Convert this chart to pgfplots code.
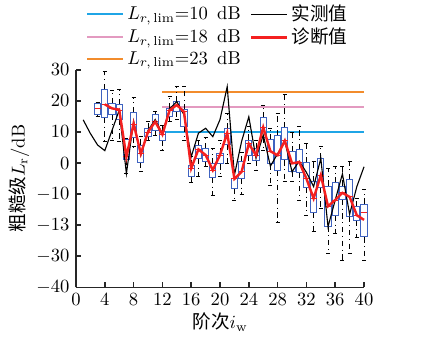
\documentclass[border=0pt]{standalone}
\usepackage{pgfplots}
\pgfplotsset{compat=1.18}
\usepgfplotslibrary{statistics}
\usepackage{fontspec}
\newfontfamily\cjk{Noto Sans CJK SC}
\definecolor{limblue}{HTML}{1FA5E6}
\definecolor{limpink}{HTML}{E39AC0}
\definecolor{limorange}{HTML}{F28C2C}
\definecolor{boxblue}{HTML}{3F63C0}
\definecolor{diagred}{HTML}{F42020}
\newcommand\bx[6]{\addplot[boxplot prepared={draw position=#1,lower whisker=#2,lower quartile=#3,median=#4,upper quartile=#5,upper whisker=#6}] coordinates {};}
\pgfplotstableread{
x y
1 13.9
2 9.5
3 5.8
4 4.0
5 10.5
6 17.0
7 -3.4
8 13.5
9 2.5
10 10.5
11 14.0
12 9.5
13 17.5
14 19.8
15 15.5
16 2.0
17 9.6
18 11.2
19 8.5
20 14.0
21 24.6
22 -3.9
23 7.0
24 14.9
25 1.5
26 9.0
27 -1.0
28 3.0
29 7.0
30 -2.8
31 0.6
32 -3.0
33 -7.6
34 1.5
35 -20.5
36 -11.9
37 -3.5
38 -16.5
39 -7.6
40 -1.2
}\measured
\pgfplotstableread{
x y
4 18.9
5 17.6
6 17.2
7 2.0
8 12.7
9 3.0
10 10.0
11 13.3
12 9.2
13 17.0
14 18.7
15 16.5
16 -1.7
17 4.4
18 2.6
19 -2.3
20 2.6
21 9.7
22 -5.1
23 -2.8
24 6.2
25 2.5
26 11.5
27 3.8
28 2.5
29 7.2
30 -0.1
31 0.3
32 -5.0
33 -11.4
34 -3.9
35 -13.9
36 -11.9
37 -9.6
38 -10.9
39 -16.8
40 -18.3
}\diagnosed
\begin{document}
\begin{tikzpicture}
\begin{axis}[
  scale only axis, width=155pt, height=117pt,
  xmin=0, xmax=40, ymin=-40, ymax=30,
  axis x line=bottom, axis y line=left,
  axis line style={-, line width=0.8pt, black!85},
  tick align=inside, major tick length=2.8pt,
  tick style={line width=0.8pt, black!85},
  xtick={0,4,...,40},
  ytick={-40,-30,-20,-10,0,10,20,30},
  yticklabels={$-40$,$-30$,$-13$,$-10$,$0$,$10$,$20$,$30$},
  xlabel={{\cjk 阶次}$i_\mathrm{w}$},
  ylabel={{\cjk 粗糙级}$L_\mathrm{r}$/dB},
  xlabel style={yshift=3pt},
  ylabel style={yshift=-3pt},
  clip=false,
  boxplot/draw direction=y,
  boxplot/box extend=0.85,
  boxplot/whisker extend=0.55,
  boxplot/every box/.style={draw=boxblue, fill=white, line width=0.55pt},
  boxplot/every whisker/.style={black, dash dot, line width=0.45pt},
  boxplot/every median/.style={diagred, line width=0.5pt},
  legend columns=2,
  legend style={at={(rel axis cs:0.035,0.995)}, anchor=south west, draw=none, fill=none,
    inner sep=0pt,
    /tikz/every even column/.append style={column sep=3pt},
    row sep=-1.5pt, font=\normalsize},
  legend cell align=left,
  legend image code/.code={\draw[#1] (0cm,0cm) -- (0.67cm,0cm);},
]
\addlegendimage{color=limblue, line width=0.9pt}
\addlegendentry{$L_{r,\,\mathrm{lim}}$=10\hspace{0.5em}dB}
\addlegendimage{color=black, line width=0.6pt}
\addlegendentry{\cjk 实测值}
\addlegendimage{color=limpink, line width=0.9pt}
\addlegendentry{$L_{r,\,\mathrm{lim}}$=18\hspace{0.5em}dB}
\addlegendimage{color=diagred, line width=1.3pt}
\addlegendentry{\cjk 诊断值}
\addlegendimage{color=limorange, line width=0.9pt}
\addlegendentry{$L_{r,\,\mathrm{lim}}$=23\hspace{0.5em}dB}

\addplot[color=limblue, line width=0.9pt, forget plot] coordinates {(12,10) (40,10)};
\addplot[color=limpink, line width=0.9pt, forget plot] coordinates {(12,18) (40,18)};
\addplot[color=limorange, line width=1.1pt, forget plot] coordinates {(12,23) (40,23)};

\bx{3}{15.0}{15.5}{17.6}{19.3}{19.5}
\bx{4}{6.9}{14.7}{19.0}{23.8}{29.5}
\bx{5}{7.4}{15.5}{17.6}{19.3}{23.3}
\bx{6}{7.1}{14.1}{16.9}{18.9}{23.8}
\bx{7}{-3.5}{1.2}{2.0}{7.7}{7.8}
\bx{8}{5.3}{8.3}{12.5}{16.3}{21.0}
\bx{9}{-2.6}{0.1}{3.0}{5.8}{8.5}
\bx{10}{7.3}{8.7}{10.0}{11.0}{13.5}
\bx{11}{9.0}{10.6}{13.3}{15.7}{16.5}
\bx{12}{4.0}{7.4}{9.2}{10.3}{12.0}
\bx{13}{13.5}{15.0}{17.0}{17.6}{21.6}
\bx{14}{13.9}{16.5}{18.7}{19.8}{24.6}
\bx{15}{7.4}{11.7}{16.5}{17.1}{24.8}
\bx{16}{-6.3}{-4.4}{-1.7}{-0.8}{2.0}
\bx{17}{-4.4}{1.5}{4.4}{5.5}{7.2}
\bx{18}{-1.2}{0.4}{2.6}{4.7}{8.4}
\bx{19}{-10.3}{-4.6}{-2.3}{-0.3}{4.7}
\bx{20}{-4.4}{-0.3}{2.6}{3.1}{7.3}
\bx{21}{0.0}{6.0}{9.6}{11.0}{16.0}
\bx{22}{-12.0}{-8.2}{-5.0}{-4.9}{-2.3}
\bx{23}{-10.0}{-4.9}{-2.8}{0.4}{3.4}
\bx{24}{-0.1}{2.3}{6.2}{7.4}{11.7}
\bx{25}{-2.5}{0.9}{2.5}{4.7}{7.3}
\bx{26}{4.0}{8.3}{11.5}{14.6}{18.5}
\bx{27}{-7.1}{-0.3}{3.8}{7.5}{11.0}
\bx{28}{-19.0}{-2.5}{2.5}{8.8}{16.0}
\bx{29}{-6.0}{1.0}{7.2}{11.4}{22.2}
\bx{30}{-6.0}{-2.8}{-0.1}{3.6}{9.7}
\bx{31}{-11.9}{-2.9}{0.3}{4.4}{11.7}
\bx{32}{-16.8}{-7.8}{-5.0}{0.1}{6.3}
\bx{33}{-22.0}{-16.0}{-11.4}{-6.0}{0.4}
\bx{34}{-14.6}{-7.8}{-3.9}{1.5}{5.3}
\bx{35}{-29.1}{-20.3}{-13.9}{-7.4}{-1.7}
\bx{36}{-22.7}{-16.8}{-11.9}{-6.3}{-1.2}
\bx{37}{-31.3}{-11.7}{-9.6}{-7.4}{-1.2}
\bx{38}{-29.0}{-17.1}{-10.9}{-5.3}{0.4}
\bx{39}{-23.8}{-18.4}{-16.8}{-13.9}{-11.4}
\bx{40}{-31.5}{-23.8}{-15.8}{-13.2}{-8.5}

\addplot[black, line width=0.6pt, forget plot] table[x=x,y=y] {\measured};
\addplot[diagred, line width=1.3pt, forget plot] table[x=x,y=y] {\diagnosed};
\end{axis}
\path (current axis.south west) ++(-40.9pt,-28.5pt) coordinate (bbA);
\path (current axis.north east) ++(38.2pt,37.6pt) coordinate (bbB);
\path (bbA) -- (bbB);
\end{tikzpicture}
\end{document}
